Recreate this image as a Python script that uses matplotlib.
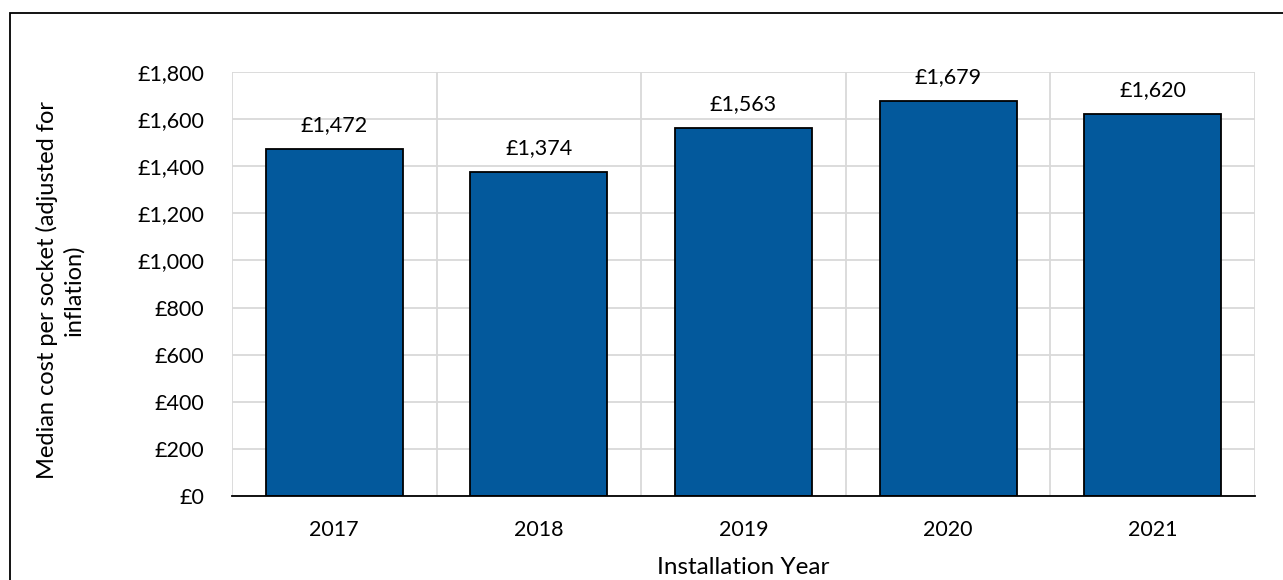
import matplotlib
matplotlib.use('Agg')
import matplotlib.pyplot as plt
from matplotlib.patches import Rectangle
from matplotlib.ticker import FuncFormatter, MultipleLocator

years = ["2017", "2018", "2019", "2020", "2021"]
median_cost = [1472, 1374, 1563, 1679, 1620]

plt.rcParams['font.family'] = ['Lato', 'DejaVu Sans']

fig = plt.figure(figsize=(12.83, 5.8), dpi=100)
ax = fig.add_axes([232 / 1283, 1 - 496 / 580, (1255 - 232) / 1283, (496 - 72) / 580])

x = range(len(years))
bars = ax.bar(x, median_cost, width=0.67, color='#03599C', edgecolor='black', linewidth=1.3, zorder=3)

for xi, v in zip(x, median_cost):
    ax.annotate(f"£{v:,}", (xi, v), xytext=(0, 10), textcoords='offset points',
                ha='center', va='bottom', fontsize=15.5)

ax.set_xlim(-0.5, len(years) - 0.5)
ax.set_ylim(0, 1800)
ax.yaxis.set_major_locator(MultipleLocator(200))
ax.yaxis.set_major_formatter(FuncFormatter(lambda v, p: f"£{int(v):,}"))
ax.set_xticks(list(x))
ax.set_xticklabels(years)
ax.set_xticks([i + 0.5 for i in range(-1, len(years))], minor=True)

ax.grid(axis='y', which='major', color='#D9D9D9', linewidth=1.3, zorder=0)
ax.grid(axis='x', which='minor', color='#D9D9D9', linewidth=1.3, zorder=0)
ax.tick_params(axis='both', which='both', length=0, labelsize=15.5, colors='black')
ax.tick_params(axis='x', pad=17)
ax.tick_params(axis='y', pad=20)
for s in ['top', 'right', 'left']:
    ax.spines[s].set_visible(False)
ax.spines['bottom'].set_color('black')
ax.spines['bottom'].set_linewidth(1.3)
ax.spines['bottom'].set_zorder(4)

fig.text(743.5 / 1283, 1 - 567 / 580, "Installation Year", fontsize=17.5, ha='center', va='center')
fig.text(60 / 1283, 1 - 290 / 580, "Median cost per socket (adjusted for\ninflation)", fontsize=17,
         rotation=90, ha='center', va='center', multialignment='center', linespacing=1.25)

fig.patches.append(Rectangle((10 / 1283, -0.1), 1.2, 1 - 13 / 580 + 0.1, transform=fig.transFigure,
                             fill=False, edgecolor='black', linewidth=1.3))

fig.savefig("out.png", dpi=100)
